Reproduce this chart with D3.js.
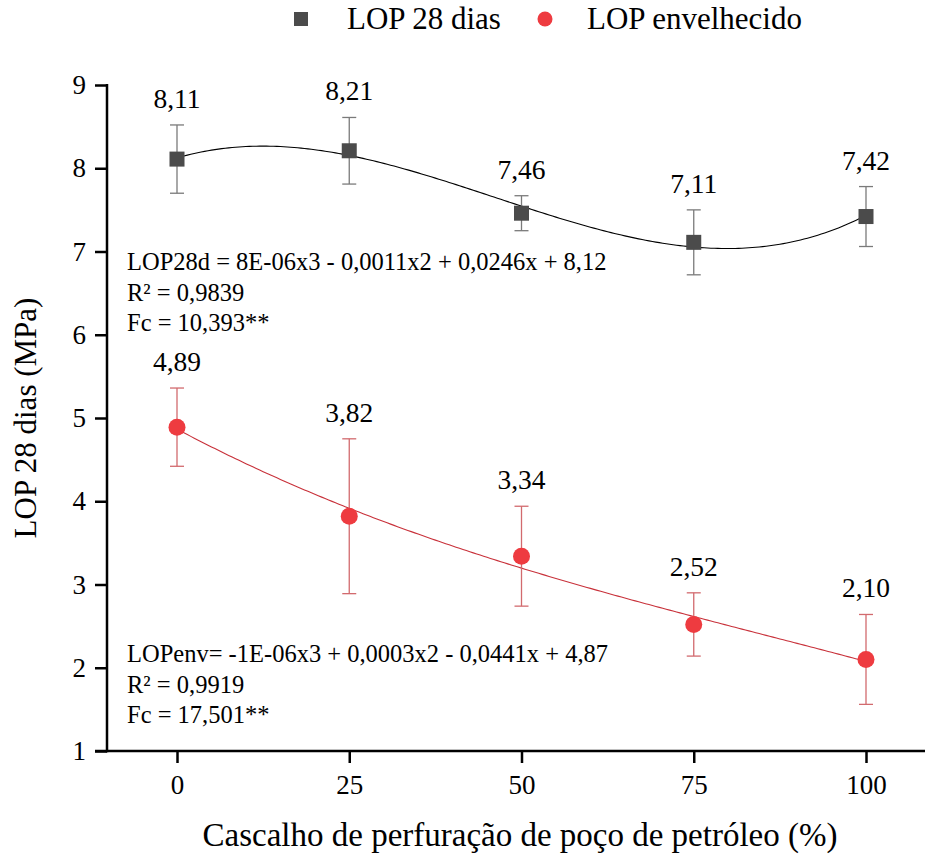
<!DOCTYPE html>
<html>
<head>
<meta charset="utf-8">
<script src="https://cdn.jsdelivr.net/npm/d3@7"></script>
</head>
<body style="margin:0">
<svg id="chart" width="928" height="859" font-family="Liberation Serif"></svg>
<script>
// Cascalho de perfuração (%)
const doses = [0, 25, 50, 75, 100];

// LOP aos 28 dias (MPa) and its error bars
const lop28 = [8.11, 8.21, 7.46, 7.11, 7.42];
const lop28Err = [0.41, 0.40, 0.21, 0.39, 0.36];

// LOP envelhecido (MPa) and its error bars
const lopEnv = [4.89, 3.82, 3.34, 2.52, 2.10];
const lopEnvErr = [0.47, 0.93, 0.60, 0.38, 0.54];

const yTicks = [1, 2, 3, 4, 5, 6, 7, 8, 9];

const eq28 = ["LOP28d = 8E-06x3 - 0,0011x2 + 0,0246x + 8,12", "R² = 0,9839", "Fc = 10,393**"];
const eqEnv = ["LOPenv= -1E-06x3 + 0,0003x2 - 0,0441x + 4,87", "R² = 0,9919", "Fc = 17,501**"];

const fmt = v => v.toFixed(2).replace(".", ",");

const svg = d3.select("#chart");
const plotLeft = 107, plotBottom = 751, plotTop = 85, plotRight = 925;

const x = d3.scaleLinear().domain([0, 100]).range([177, 866]);
const y = d3.scaleLinear().domain([1, 9]).range([plotBottom, plotTop]);

// Least-squares cubic trendline through the points
function cubicFit(xs, ys) {
  const n = 4;
  const A = Array.from({length: n}, () => new Array(n + 1).fill(0));
  xs.forEach((xi, k) => {
    for (let i = 0; i < n; i++) {
      for (let j = 0; j < n; j++) A[i][j] += Math.pow(xi, i + j);
      A[i][n] += ys[k] * Math.pow(xi, i);
    }
  });
  for (let c = 0; c < n; c++) {
    let p = c;
    for (let r = c + 1; r < n; r++) if (Math.abs(A[r][c]) > Math.abs(A[p][c])) p = r;
    [A[c], A[p]] = [A[p], A[c]];
    for (let r = 0; r < n; r++) {
      if (r === c) continue;
      const f = A[r][c] / A[c][c];
      for (let k = c; k <= n; k++) A[r][k] -= f * A[c][k];
    }
  }
  const coef = A.map((row, i) => row[n] / row[i]);
  return t => coef.reduce((s, a, i) => s + a * Math.pow(t, i), 0);
}

// Axes
const yAxis = d3.axisLeft(y).tickValues(yTicks).tickSize(12).tickPadding(9).tickFormat(d3.format("d"));
const gy = svg.append("g").attr("transform", `translate(${plotLeft},0)`).call(yAxis)
  .attr("font-family", null).attr("font-size", null);
gy.select(".domain").remove();
gy.selectAll(".tick line").attr("stroke", "#000").attr("stroke-width", 2.5);
gy.selectAll(".tick text").attr("font-size", 27).attr("fill", "#000");
svg.append("line").attr("x1", plotLeft).attr("x2", plotLeft).attr("y1", plotTop - 1).attr("y2", plotBottom + 1.25)
  .attr("stroke", "#000").attr("stroke-width", 2.5);

const xAxis = d3.axisBottom(x).tickValues(doses).tickSize(12).tickPadding(12).tickFormat(d3.format("d"));
const gx = svg.append("g").attr("transform", `translate(0,${plotBottom})`).call(xAxis)
  .attr("font-family", null).attr("font-size", null);
gx.select(".domain").remove();
gx.selectAll(".tick line").attr("stroke", "#000").attr("stroke-width", 2.5);
gx.selectAll(".tick text").attr("font-size", 27).attr("fill", "#000");
svg.append("line").attr("x1", plotLeft - 12).attr("x2", plotRight).attr("y1", plotBottom).attr("y2", plotBottom)
  .attr("stroke", "#000").attr("stroke-width", 2.5);

// Axis titles
svg.append("text").attr("x", 520).attr("y", 846).attr("text-anchor", "middle")
  .attr("font-size", 33).text("Cascalho de perfuração de poço de petróleo (%)");
svg.append("text").attr("transform", "translate(36,418) rotate(-90)").attr("text-anchor", "middle")
  .attr("font-size", 31).text("LOP 28 dias (MPa)");

function drawSeries(vals, errs, cfg) {
  const g = svg.append("g");
  const fit = cubicFit(doses, vals);
  const curve = d3.range(0, 100.01, 0.5).map(t => [t, fit(t)]);
  g.append("path").datum(curve)
    .attr("d", d3.line().x(d => x(d[0])).y(d => y(d[1])))
    .attr("fill", "none").attr("stroke", cfg.lineColor).attr("stroke-width", 1.1);

  const pts = doses.map((d, i) => ({d, v: vals[i], e: errs[i]}));
  const eb = g.selectAll(".eb").data(pts).enter().append("g");
  eb.append("line").attr("x1", p => x(p.d)).attr("x2", p => x(p.d))
    .attr("y1", p => y(p.v + p.e)).attr("y2", p => y(p.v - p.e))
    .attr("stroke", cfg.errColor).attr("stroke-width", 1.3);
  [1, -1].forEach(s => {
    eb.append("line").attr("x1", p => x(p.d) - 7).attr("x2", p => x(p.d) + 7)
      .attr("y1", p => y(p.v + s * p.e)).attr("y2", p => y(p.v + s * p.e))
      .attr("stroke", cfg.errColor).attr("stroke-width", 1.3);
  });

  if (cfg.shape === "square") {
    g.selectAll(".m").data(pts).enter().append("rect")
      .attr("x", p => x(p.d) - 7.5).attr("y", p => y(p.v) - 7.5)
      .attr("width", 15).attr("height", 15).attr("fill", cfg.color);
  } else {
    g.selectAll(".m").data(pts).enter().append("circle")
      .attr("cx", p => x(p.d)).attr("cy", p => y(p.v)).attr("r", 8.5).attr("fill", cfg.color);
  }

  g.selectAll(".lbl").data(pts).enter().append("text")
    .attr("x", p => x(p.d)).attr("y", p => y(p.v + p.e) - 17)
    .attr("text-anchor", "middle").attr("font-size", 27.5).attr("fill", "#000")
    .text(p => fmt(p.v));

  g.selectAll(".eq").data(cfg.eq).enter().append("text")
    .attr("x", 127).attr("y", (t, i) => cfg.eqY + i * 30.5)
    .attr("font-size", 24.5).attr("fill", "#000").text(t => t);
}

drawSeries(lop28, lop28Err, {shape: "square", color: "#4b4b4b", lineColor: "#000", errColor: "#7a7a7a", eq: eq28, eqY: 270});
drawSeries(lopEnv, lopEnvErr, {shape: "circle", color: "#ee3b40", lineColor: "#c8313a", errColor: "#d26a6e", eq: eqEnv, eqY: 662});

// Legend
const lg = svg.append("g");
lg.append("rect").attr("x", 294).attr("y", 12).attr("width", 14).attr("height", 14).attr("fill", "#4b4b4b");
lg.append("text").attr("x", 347).attr("y", 29).attr("font-size", 31).text("LOP 28 dias");
lg.append("circle").attr("cx", 545).attr("cy", 19).attr("r", 7.5).attr("fill", "#ee3b40");
lg.append("text").attr("x", 587).attr("y", 29).attr("font-size", 31).text("LOP envelhecido");

// Serif typeface on every label
svg.selectAll("text").attr("font-family", "Liberation Serif").style("font-family", "'Liberation Serif'");
</script>
</body>
</html>
